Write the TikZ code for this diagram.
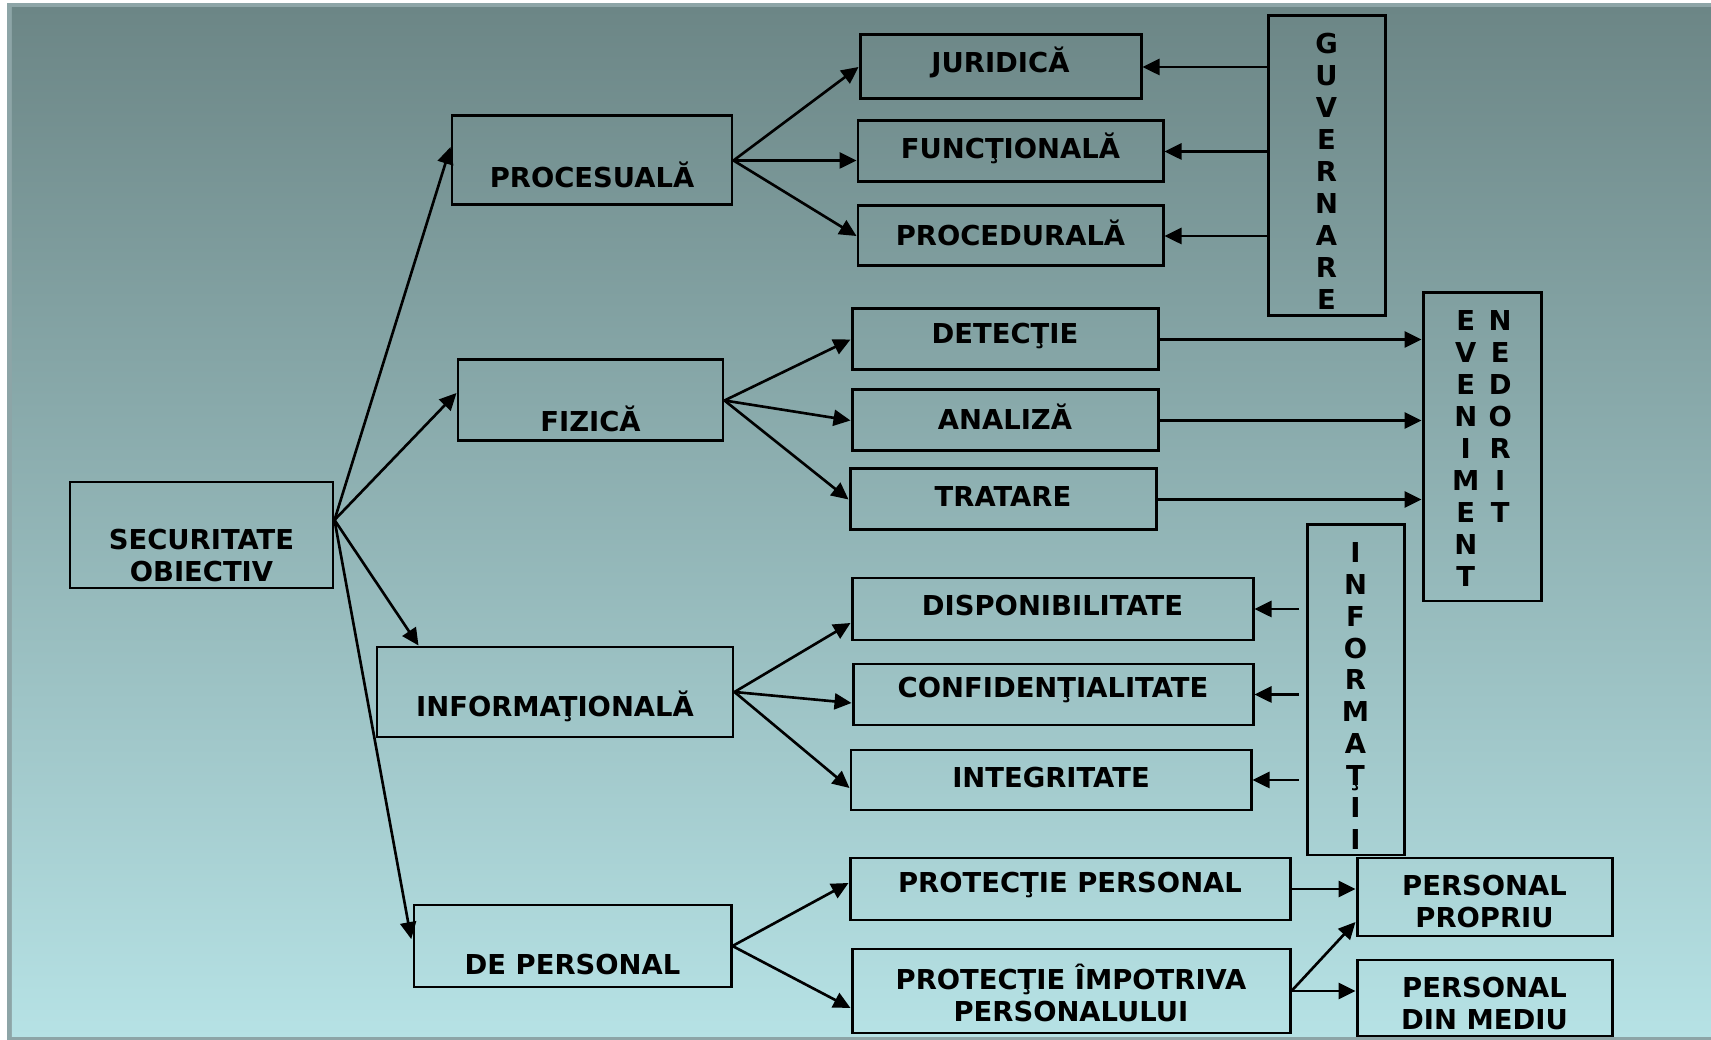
\documentclass[tikz,border=0pt]{standalone}
\usepackage{fontspec}
\setmainfont{DejaVu Sans}
\usetikzlibrary{arrows.meta}
\definecolor{paneltop}{RGB}{108,134,134}
\definecolor{panelbot}{RGB}{182,226,229}
\definecolor{framegray}{RGB}{141,165,167}

\begin{document}
\begin{tikzpicture}[
  box/.style={draw, line width=0.85pt, inner sep=0pt},
  arr/.style={-{Triangle[length=0.17cm, width=0.16cm]}, line width=0.75pt},
  every node/.append style={align=center, font=\fontsize{7.8}{9.1}\selectfont\bfseries}
]
  % background panel
  \useasboundingbox (0,0) rectangle (17.11,-10.40);
  \fill[white] (0,0) rectangle (17.11,-10.40);
  \fill[framegray] (0.07,-0.03) rectangle (17.11,-10.40);
  \shade[top color=paneltop, bottom color=panelbot] (0.12,-0.08) rectangle (17.11,-10.37);

  % first and second level
  \node[box, minimum width=2.63cm, minimum height=1.06cm, label={[yshift=-0.21cm]center:SECURITATE\\OBIECTIV}] (sec) at (2.015,-5.35) {};
  \node[box, minimum width=2.80cm, minimum height=0.89cm, label={[yshift=-0.145cm]center:PROCESUALĂ}] (proc) at (5.92,-1.605) {};
  \node[box, minimum width=2.65cm, minimum height=0.81cm, label={[yshift=-0.185cm]center:FIZICĂ}] (fiz) at (5.905,-4.005) {};
  \node[box, minimum width=3.56cm, minimum height=0.90cm, label={[yshift=-0.14cm]center:INFORMAŢIONALĂ}] (info) at (5.55,-6.92) {};
  \node[box, minimum width=3.17cm, minimum height=0.82cm, label={[yshift=-0.19cm]center:DE PERSONAL}] (depers) at (5.725,-9.46) {};

  % third level
  \node[box, minimum width=2.81cm, minimum height=0.64cm, label={[yshift=0.05cm]center:JURIDICĂ}] (jur) at (10.005,-0.67) {};
  \node[box, minimum width=3.05cm, minimum height=0.61cm, label={[yshift=0.03cm]center:FUNCŢIONALĂ}] (func) at (10.105,-1.515) {};
  \node[box, minimum width=3.05cm, minimum height=0.60cm, label={[yshift=0.035cm]center:PROCEDURALĂ}] (procd) at (10.105,-2.36) {};
  \node[box, minimum width=3.06cm, minimum height=0.61cm, label={[yshift=0.035cm]center:DETECŢIE}] (det) at (10.05,-3.395) {};
  \node[box, minimum width=3.06cm, minimum height=0.61cm, label={[yshift=0.035cm]center:ANALIZĂ}] (anal) at (10.05,-4.205) {};
  \node[box, minimum width=3.06cm, minimum height=0.61cm, label={[yshift=0.03cm]center:TRATARE}] (trat) at (10.03,-4.995) {};
  \node[box, minimum width=4.01cm, minimum height=0.62cm, label={[yshift=0.035cm]center:DISPONIBILITATE}] (disp) at (10.525,-6.09) {};
  \node[box, minimum width=4.00cm, minimum height=0.61cm, label={[yshift=0.04cm]center:CONFIDENŢIALITATE}] (conf) at (10.53,-6.945) {};
  \node[box, minimum width=4.00cm, minimum height=0.60cm, label={[yshift=0.02cm]center:INTEGRITATE}] (integ) at (10.51,-7.80) {};
  \node[box, minimum width=4.40cm, minimum height=0.62cm, label={[yshift=0.04cm]center:PROTECŢIE PERSONAL}] (protp) at (10.70,-8.89) {};
  \node[box, minimum width=4.38cm, minimum height=0.84cm, label={[yshift=-0.015cm]center:PROTECŢIE ÎMPOTRIVA\\PERSONALULUI}] (protimp) at (10.71,-9.91) {};

  % right column
  \node[box, minimum width=1.17cm, minimum height=3.00cm, label={[yshift=-0.055cm]center:G\\U\\V\\E\\R\\N\\A\\R\\E}] (guv) at (13.265,-1.66) {};
  \node[box, minimum width=1.18cm, minimum height=3.08cm, label={[yshift=-0.055cm]center:\begin{tabular}{@{}c@{\hspace{2.6pt}}c@{}}E&N\\V&E\\E&D\\N&O\\I&R\\M&I\\E&T\\N&\\T&\end{tabular}}] (even) at (14.82,-4.47) {};
  \node[box, minimum width=0.97cm, minimum height=3.30cm, label={[yshift=-0.06cm]center:I\\N\\F\\O\\R\\M\\A\\Ţ\\I\\I}] (infor) at (13.555,-6.90) {};
  \node[box, minimum width=2.55cm, minimum height=0.78cm, label={[yshift=-0.045cm]center:PERSONAL\\PROPRIU}] (pprop) at (14.845,-8.97) {};
  \node[box, minimum width=2.55cm, minimum height=0.76cm, label={[yshift=-0.06cm]center:PERSONAL\\DIN MEDIU}] (pmed) at (14.845,-9.98) {};

  % connectors
  \draw[arr] ([yshift=0.15cm]sec.east) -- ([yshift=0.135cm]proc.west);
  \draw[arr] ([yshift=0.15cm]sec.east) -- ([yshift=0.075cm]fiz.west);
  \draw[arr] ([yshift=0.15cm]sec.east) -- ([xshift=0.43cm]info.north west);
  \draw[arr, shorten >=0.07cm] ([yshift=0.15cm]sec.east) -- (depers.west);

  \draw[arr] (proc.east) -- (jur.west);
  \draw[arr] (proc.east) -- (proc.east -| func.west);
  \draw[arr] (proc.east) -- (procd.west);

  \draw[arr] (fiz.east) -- (det.west);
  \draw[arr] (fiz.east) -- (anal.west);
  \draw[arr] (fiz.east) -- (trat.west);

  \draw[arr] (info.east) -- ([yshift=-0.14cm]disp.west);
  \draw[arr] (info.east) -- ([yshift=-0.085cm]conf.west);
  \draw[arr] (info.east) -- ([yshift=-0.08cm]integ.west);

  \draw[arr] (depers.east) -- ([yshift=0.06cm]protp.west);
  \draw[arr] (depers.east) -- ([yshift=-0.17cm]protimp.west);

  \draw[arr] (guv.west |- jur.east) -- (jur.east);
  \draw[arr] (guv.west |- func.east) -- (func.east);
  \draw[arr] (guv.west |- procd.east) -- (procd.east);

  \draw[arr] (det.east) -- (det.east -| even.west);
  \draw[arr] (anal.east) -- (anal.east -| even.west);
  \draw[arr] (trat.east) -- (trat.east -| even.west);

  \draw[arr, shorten <=0.07cm] (infor.west |- disp.east) -- (disp.east);
  \draw[arr, shorten <=0.07cm] (infor.west |- conf.east) -- (conf.east);
  \draw[arr, shorten <=0.07cm] (infor.west |- integ.east) -- (integ.east);

  \draw[arr] (protp.east) -- (protp.east -| pprop.west);
  \draw[arr] (protimp.east) -- (protimp.east -| pmed.west);
  \draw[arr] (protimp.east) -- ([yshift=-0.25cm]pprop.west);
\end{tikzpicture}
\end{document}
